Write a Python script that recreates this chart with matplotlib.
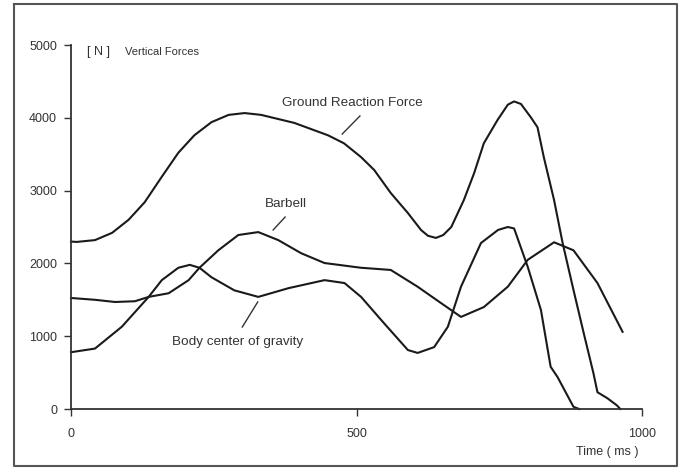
import matplotlib
matplotlib.use("Agg")
import matplotlib.pyplot as plt
from matplotlib.lines import Line2D

plt.rcParams['font.family'] = ['Liberation Sans', 'DejaVu Sans']

# Ground reaction force
grf_t = [0, 10, 42, 72, 101, 129, 159, 188, 216, 246, 276, 304, 333, 391, 450, 478,
         508, 531, 560, 590, 613, 625, 639, 652, 666, 688, 706, 723, 747, 765, 776, 788,
         805, 817, 828, 846, 861, 880, 898, 915, 922, 939, 956, 962]
grf_f = [2300, 2295, 2320, 2420, 2600, 2840, 3190, 3520, 3760, 3940, 4040, 4065, 4040,
         3930, 3760, 3650, 3460, 3283, 2967, 2692, 2459, 2380, 2350, 2390, 2500, 2870,
         3240, 3650, 3970, 4180, 4225, 4190, 4010, 3870, 3460, 2870, 2280, 1635, 1040,
         490, 230, 150, 50, 0]

# Body center of gravity
bcg_t = [0, 42, 89, 136, 159, 188, 208, 225, 246, 286, 328, 381, 444, 479, 508, 548,
         590, 607, 636, 660, 683, 718, 748, 765, 776, 800, 823, 840, 852, 880, 890]
bcg_f = [780, 830, 1130, 1540, 1770, 1940, 1980, 1940, 1810, 1630, 1540, 1660, 1770,
         1730, 1540, 1180, 810, 770, 850, 1130, 1680, 2280, 2460, 2500, 2480, 1950,
         1360, 580, 440, 30, 0]

# Barbell
bar_t = [0, 42, 77, 112, 136, 171, 206, 225, 258, 293, 328, 363, 403, 444, 508, 560,
         607, 648, 683, 723, 765, 800, 846, 880, 922, 966]
bar_f = [1525, 1500, 1470, 1480, 1540, 1590, 1770, 1940, 2180, 2390, 2430, 2320, 2140,
         2005, 1940, 1910, 1680, 1455, 1265, 1400, 1680, 2050, 2290, 2180, 1730, 1060]

y_ticks = [0, 1000, 2000, 3000, 4000, 5000]
x_ticks = [0, 500, 1000]

W, H = 681, 470
fig = plt.figure(figsize=(W / 100, H / 100), dpi=100)
ax = fig.add_axes([71 / W, 1 - 409 / H, (642 - 71) / W, (409 - 45) / H])

ink = '#1a1a1a'
for t, f in [(grf_t, grf_f), (bcg_t, bcg_f), (bar_t, bar_f)]:
    ax.plot(t, f, color=ink, lw=1.5, solid_joinstyle='round', clip_on=False)

ax.set_xlim(0, 1000)
ax.set_ylim(0, 5000)
for s in ['top', 'right']:
    ax.spines[s].set_visible(False)
for s in ['left', 'bottom']:
    ax.spines[s].set_color('#333333')
    ax.spines[s].set_linewidth(1.3)
ax.set_yticks(y_ticks)
ax.set_yticklabels([str(v) for v in y_ticks])
ax.set_xticks(x_ticks)
ax.set_xticklabels([str(v) for v in x_ticks])
ax.tick_params(axis='both', direction='out', length=5, width=1, color='#333333',
               labelsize=9, labelcolor='#333333')
ax.tick_params(axis='x', pad=9)
ax.tick_params(axis='y', pad=5)

tc = '#333333'
fs = 9.7
ax.text(28, 4900, '[ N ]', fontsize=9, color=tc, ha='left', va='center')
ax.text(95, 4900, 'Vertical Forces', fontsize=8, color=tc, ha='left', va='center')
ax.text(370, 4200, 'Ground Reaction Force', fontsize=fs, color=tc, ha='left', va='center')
ax.plot([506, 475], [4025, 3777], color=tc, lw=1)
ax.text(340, 2816, 'Barbell', fontsize=fs, color=tc, ha='left', va='center')
ax.plot([375, 354], [2637, 2459], color=tc, lw=1)
ax.text(177, 920, 'Body center of gravity', fontsize=fs, color=tc, ha='left', va='center')
ax.plot([327, 300], [1470, 1126], color=tc, lw=1)
ax.text(993, -590, 'Time ( ms )', fontsize=9, color=tc, ha='right', va='center',
        clip_on=False)

# scanned page frame
fx = [14 / W, 677 / W, 677 / W, 14 / W, 14 / W]
fy = [1 - 4 / H, 1 - 4 / H, 1 - 466 / H, 1 - 466 / H, 1 - 4 / H]
fig.add_artist(Line2D(fx, fy, transform=fig.transFigure, color='#555555', lw=1.5))

fig.savefig('out.png', dpi=100)
